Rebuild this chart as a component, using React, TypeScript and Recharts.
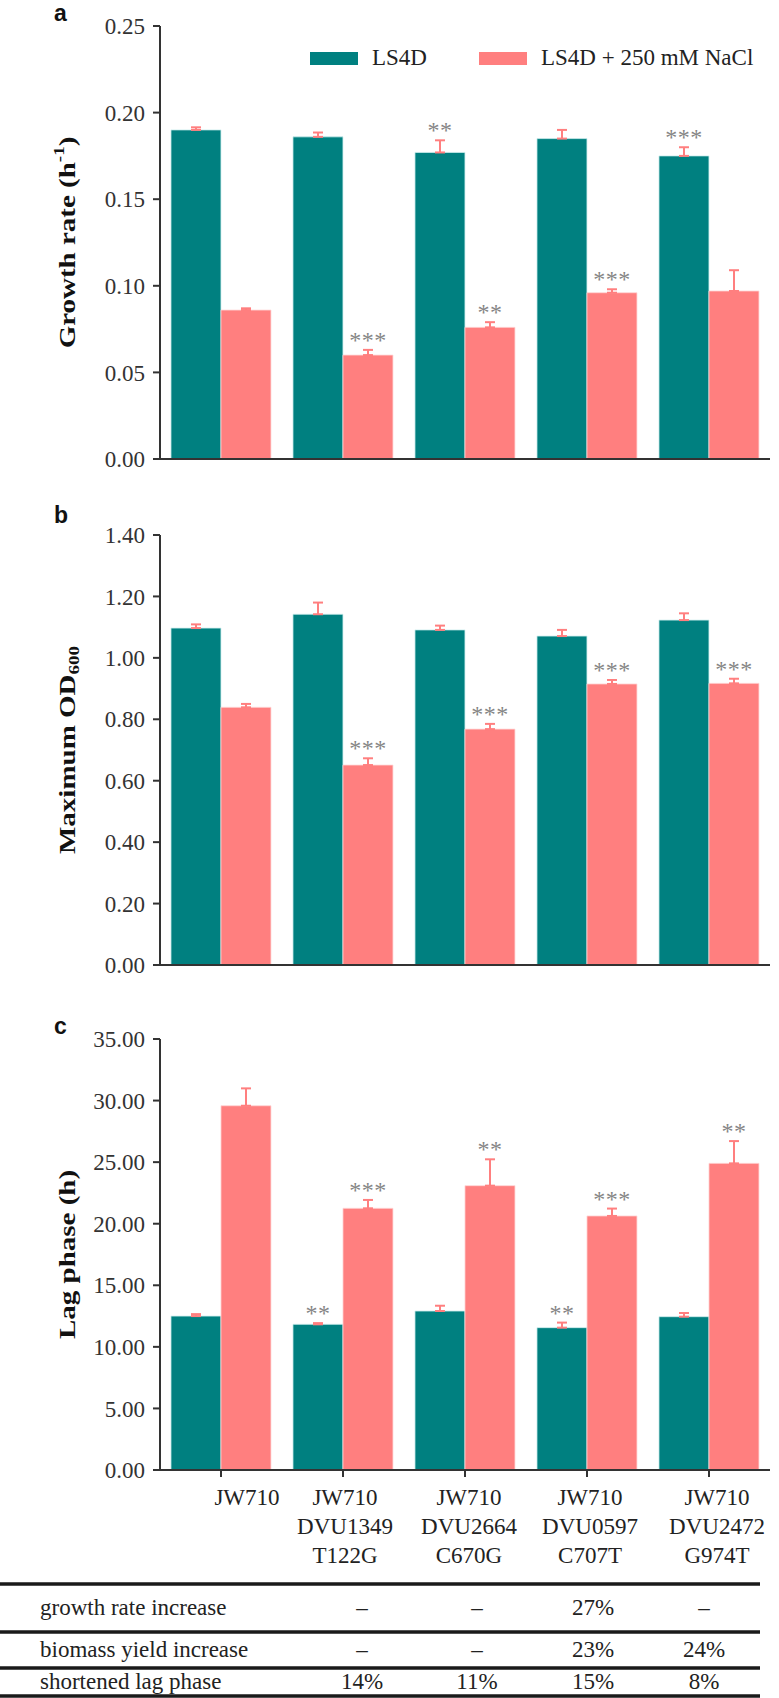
import React from 'react';
import { BarChart, Bar, XAxis, YAxis, ErrorBar, LabelList, Legend, Label } from 'recharts';

const strains = ['JW710', 'JW710 DVU1349 T122G', 'JW710 DVU2664 C670G', 'JW710 DVU0597 C707T', 'JW710 DVU2472 G974T'];

// a: growth rate (h-1)
const growthTicks = [0, 0.05, 0.1, 0.15, 0.2, 0.25];
const growthLS4D = [0.190, 0.186, 0.177, 0.185, 0.175];
const growthLS4DErr = [0.0015, 0.0025, 0.007, 0.005, 0.005];
const growthLS4DSig = ['', '', '**', '', '***'];
const growthNaCl = [0.086, 0.060, 0.076, 0.096, 0.097];
const growthNaClErr = [0.001, 0.003, 0.003, 0.002, 0.012];
const growthNaClSig = ['', '***', '**', '***', ''];

// b: maximum OD600
const odTicks = [0, 0.2, 0.4, 0.6, 0.8, 1.0, 1.2, 1.4];
const odLS4D = [1.097, 1.142, 1.091, 1.071, 1.123];
const odLS4DErr = [0.012, 0.038, 0.014, 0.02, 0.022];
const odLS4DSig = ['', '', '', '', ''];
const odNaCl = [0.839, 0.651, 0.768, 0.915, 0.917];
const odNaClErr = [0.011, 0.022, 0.017, 0.013, 0.015];
const odNaClSig = ['', '***', '***', '***', '***'];

// c: lag phase (h)
const lagTicks = [0, 5, 10, 15, 20, 25, 30, 35];
const lagLS4D = [12.5, 11.83, 12.91, 11.56, 12.45];
const lagLS4DErr = [0.16, 0.1, 0.43, 0.41, 0.3];
const lagLS4DSig = ['', '**', '', '**', ''];
const lagNaCl = [29.58, 21.25, 23.09, 20.63, 24.9];
const lagNaClErr = [1.41, 0.68, 2.14, 0.6, 1.81];
const lagNaClSig = ['', '***', '**', '***', '**'];

// table under the chart
const tableRows = ['growth rate increase', 'biomass yield increase', 'shortened lag phase'];
const tableValues = [
  ['–', '–', '27%', '–'],
  ['–', '–', '23%', '24%'],
  ['14%', '11%', '15%', '8%'],
];

const TEAL = '#008080';
const PINK = '#ff7f7f';
const AXIS = '#333333';
const FRAME = '#555555';
const SERIF = '"Liberation Serif", "Times New Roman", serif';
const SANS = '"Liberation Sans", Arial, sans-serif';

function buildRows(ls: number[], lsErr: number[], lsSig: string[], na: number[], naErr: number[], naSig: string[]) {
  return strains.map((name, i) => ({
    name,
    ls: ls[i],
    lsErr: [0, lsErr[i]],
    lsSig: lsSig[i],
    na: na[i],
    naErr: [0, naErr[i]],
    naSig: naSig[i],
  }));
}

// asterisks sit just above the error bar cap
const sigLabel = (vals: number[], errs: number[]) => (p: any) => {
  const vb = p.viewBox || p;
  const { x, y, width, height } = vb;
  if (!p.value) return null;
  const i = p.index;
  const k = height / vals[i];
  const capY = y - errs[i] * k;
  return (
    <text x={x + width / 2} y={capY - 2} textAnchor="middle" fill="#858585" fontSize={24} fontFamily={SERIF} letterSpacing={0.5}>
      {p.value}
    </text>
  );
};

// the single-line first label sits a little right of its tick in the original
const tickShift = [26, 2, 4, 3, 8];

const StrainTick = (props: any) => {
  const { x, y, payload } = props;
  const lines = String(payload.value).split(' ');
  const cx = x + (tickShift[payload.index] || 0);
  return (
    <text x={cx} y={y} textAnchor="middle" fill="#222" fontSize={23} fontFamily={SERIF}>
      {lines.map((l, i) => (
        <tspan key={i} x={cx} dy={i === 0 ? 28 : 29}>{l}</tspan>
      ))}
    </text>
  );
};

const LegendContent = (props: any) => {
  const items = props.payload || [];
  return (
    <div style={{ display: 'flex', alignItems: 'center', whiteSpace: 'nowrap', fontFamily: SERIF, fontSize: 23, color: '#222' }}>
      {items.map((it: any, i: number) => (
        <div key={i} style={{ display: 'flex', alignItems: 'center', marginRight: 52 }}>
          <div style={{ width: 48, height: 13, background: it.color, marginRight: 14 }} />
          <span>{it.value}</span>
        </div>
      ))}
    </div>
  );
};

function Panel(props: any) {
  const { top, height, plotTop, plotHeight, xHeight, rows, ticks, title, legend, strainTicks, ls, lsErr, na, naErr } = props;
  const domain = [ticks[0], ticks[ticks.length - 1]];
  const cy = plotTop + plotHeight / 2;
  return (
    <div style={{ position: 'absolute', left: 0, top }}>
      <BarChart
        width={779}
        height={height}
        data={rows}
        margin={{ top: plotTop, right: 9, left: 0, bottom: height - plotTop - plotHeight - xHeight }}
        barCategoryGap="9%"
        barGap={0}
      >
        <XAxis
          dataKey="name"
          height={xHeight}
          stroke={AXIS}
          strokeWidth={2}
          tickSize={7}
          tickMargin={0}
          interval={0}
          tick={strainTicks ? <StrainTick /> : false}
        />
        <XAxis xAxisId="top" dataKey="name" orientation="top" height={0} tick={false} tickLine={false} stroke={FRAME} strokeWidth={2} />
        <YAxis
          width={160}
          domain={domain}
          ticks={ticks}
          interval={0}
          tickFormatter={(v: number) => v.toFixed(2)}
          stroke={AXIS}
          strokeWidth={2}
          tickSize={7}
          tickMargin={8}
          tick={{ fill: '#333', fontSize: 23, fontFamily: SERIF }}
          label={
            <Label
              content={() => (
                <text
                  transform={`translate(67 ${cy}) rotate(-90) scale(1 0.8)`}
                  x={0}
                  y={0}
                  textAnchor="middle"
                  dominantBaseline="central"
                  fontFamily={SERIF}
                  fontWeight="bold"
                  fontSize={29}
                  fill="#111"
                >
                  {title}
                </text>
              )}
            />
          }
        />
        <YAxis yAxisId="right" orientation="right" width={0} domain={domain} tick={false} tickLine={false} stroke={FRAME} strokeWidth={2} />
        {legend && (
          <Legend
            layout="horizontal"
            verticalAlign="middle"
            align="center"
            wrapperStyle={{ top: 45, left: 310, width: 469 }}
            content={<LegendContent />}
          />
        )}
        <Bar dataKey="ls" name="LS4D" fill={TEAL} stroke="#cfeeee" strokeWidth={0.8} isAnimationActive={false}>
          <ErrorBar dataKey="lsErr" direction="y" width={5} stroke={PINK} strokeWidth={2} />
          <LabelList dataKey="lsSig" content={sigLabel(ls, lsErr)} />
        </Bar>
        <Bar dataKey="na" name="LS4D + 250 mM NaCl" fill={PINK} stroke="#ffd6d6" strokeWidth={0.8} isAnimationActive={false}>
          <ErrorBar dataKey="naErr" direction="y" width={5} stroke={PINK} strokeWidth={2} />
          <LabelList dataKey="naSig" content={sigLabel(na, naErr)} />
        </Bar>
      </BarChart>
    </div>
  );
}

const tableLineY = [1584, 1632, 1668, 1696];
const tableTextY = [1615, 1657, 1689];
const tableColX = [362, 477, 593, 704];

export default function App() {
  const growthRows = buildRows(growthLS4D, growthLS4DErr, growthLS4DSig, growthNaCl, growthNaClErr, growthNaClSig);
  const odRows = buildRows(odLS4D, odLS4DErr, odLS4DSig, odNaCl, odNaClErr, odNaClSig);
  const lagRows = buildRows(lagLS4D, lagLS4DErr, lagLS4DSig, lagNaCl, lagNaClErr, lagNaClSig);

  return (
    <div style={{ position: 'relative', width: 779, height: 1698, background: '#fff', overflow: 'hidden' }}>
      <style>{'body{margin:0}'}</style>
      <Panel
        top={0} height={480} plotTop={26} plotHeight={433} xHeight={20}
        rows={growthRows} ticks={growthTicks} legend
        ls={growthLS4D} lsErr={growthLS4DErr} na={growthNaCl} naErr={growthNaClErr}
        title={<>Growth rate (h<tspan dy={-10} fontSize={19}>-1</tspan><tspan dy={10}>)</tspan></>}
      />
      <Panel
        top={500} height={490} plotTop={35} plotHeight={430} xHeight={20}
        rows={odRows} ticks={odTicks}
        ls={odLS4D} lsErr={odLS4DErr} na={odNaCl} naErr={odNaClErr}
        title={<>Maximum OD<tspan dy={8} fontSize={19}>600</tspan></>}
      />
      <Panel
        top={1000} height={580} plotTop={39} plotHeight={431} xHeight={100}
        rows={lagRows} ticks={lagTicks} strainTicks
        ls={lagLS4D} lsErr={lagLS4DErr} na={lagNaCl} naErr={lagNaClErr}
        title={<>Lag phase (h)</>}
      />
      <svg width={779} height={1698} style={{ position: 'absolute', left: 0, top: 0, pointerEvents: 'none' }}>
        <g fontFamily={SANS} fontWeight="bold" fontSize={23} fill="#111">
          <text x={54} y={21}>a</text>
          <text x={54} y={523}>b</text>
          <text x={54} y={1034}>c</text>
        </g>
        {tableLineY.map((y, i) => (
          <line key={i} x1={0} x2={760} y1={y} y2={y} stroke="#1a1a1a" strokeWidth={3.5} />
        ))}
        <g fontFamily={SERIF} fontSize={23} fill="#222">
          {tableRows.map((r, i) => (
            <g key={r}>
              <text x={40} y={tableTextY[i]}>{r}</text>
              {tableValues[i].map((v, j) => (
                <text key={j} x={tableColX[j]} y={tableTextY[i]} textAnchor="middle">{v}</text>
              ))}
            </g>
          ))}
        </g>
      </svg>
    </div>
  );
}
